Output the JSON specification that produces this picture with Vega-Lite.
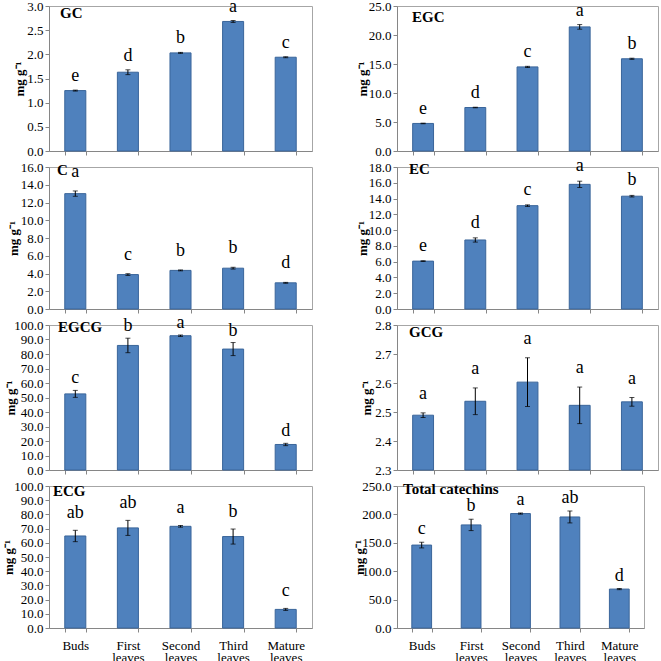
{
  "$schema": "https://vega.github.io/schema/vega-lite/v6.json",
  "padding": {"left": 1, "top": -4, "right": 0, "bottom": 0},
  "background": "white",
  "datasets": {
    "catechins": [
      {"compound": "GC", "stage": "Buds", "value": 1.25, "lo": 1.24, "hi": 1.26, "letter": "e"},
      {"compound": "GC", "stage": "First leaves", "value": 1.63, "lo": 1.58, "hi": 1.68, "letter": "d"},
      {"compound": "GC", "stage": "Second leaves", "value": 2.03, "lo": 2.02, "hi": 2.04, "letter": "b"},
      {"compound": "GC", "stage": "Third leaves", "value": 2.68, "lo": 2.66, "hi": 2.70, "letter": "a"},
      {"compound": "GC", "stage": "Mature leaves", "value": 1.94, "lo": 1.93, "hi": 1.95, "letter": "c"},
      {"compound": "EGC", "stage": "Buds", "value": 4.75, "lo": 4.7, "hi": 4.8, "letter": "e"},
      {"compound": "EGC", "stage": "First leaves", "value": 7.5, "lo": 7.45, "hi": 7.55, "letter": "d"},
      {"compound": "EGC", "stage": "Second leaves", "value": 14.5, "lo": 14.4, "hi": 14.6, "letter": "c"},
      {"compound": "EGC", "stage": "Third leaves", "value": 21.4, "lo": 21.0, "hi": 21.8, "letter": "a"},
      {"compound": "EGC", "stage": "Mature leaves", "value": 15.9, "lo": 15.8, "hi": 16.0, "letter": "b"},
      {"compound": "C", "stage": "Buds", "value": 13.0, "lo": 12.7, "hi": 13.3, "letter": "a"},
      {"compound": "C", "stage": "First leaves", "value": 3.88, "lo": 3.78, "hi": 3.98, "letter": "c"},
      {"compound": "C", "stage": "Second leaves", "value": 4.35, "lo": 4.3, "hi": 4.4, "letter": "b"},
      {"compound": "C", "stage": "Third leaves", "value": 4.6, "lo": 4.5, "hi": 4.7, "letter": "b"},
      {"compound": "C", "stage": "Mature leaves", "value": 2.95, "lo": 2.9, "hi": 3.0, "letter": "d"},
      {"compound": "EC", "stage": "Buds", "value": 6.07, "lo": 6.02, "hi": 6.12, "letter": "e"},
      {"compound": "EC", "stage": "First leaves", "value": 8.75, "lo": 8.48, "hi": 9.02, "letter": "d"},
      {"compound": "EC", "stage": "Second leaves", "value": 13.1, "lo": 13.0, "hi": 13.2, "letter": "c"},
      {"compound": "EC", "stage": "Third leaves", "value": 15.8, "lo": 15.4, "hi": 16.2, "letter": "a"},
      {"compound": "EC", "stage": "Mature leaves", "value": 14.3, "lo": 14.2, "hi": 14.4, "letter": "b"},
      {"compound": "EGCG", "stage": "Buds", "value": 52.5, "lo": 50.1, "hi": 54.9, "letter": "c"},
      {"compound": "EGCG", "stage": "First leaves", "value": 85.9, "lo": 80.9, "hi": 90.9, "letter": "b"},
      {"compound": "EGCG", "stage": "Second leaves", "value": 92.6, "lo": 92.1, "hi": 93.1, "letter": "a"},
      {"compound": "EGCG", "stage": "Third leaves", "value": 83.4, "lo": 78.9, "hi": 87.9, "letter": "b"},
      {"compound": "EGCG", "stage": "Mature leaves", "value": 17.6, "lo": 16.8, "hi": 18.4, "letter": "d"},
      {"compound": "GCG", "stage": "Buds", "value": 2.489, "lo": 2.481, "hi": 2.497, "letter": "a"},
      {"compound": "GCG", "stage": "First leaves", "value": 2.537, "lo": 2.491, "hi": 2.583, "letter": "a"},
      {"compound": "GCG", "stage": "Second leaves", "value": 2.603, "lo": 2.519, "hi": 2.687, "letter": "a"},
      {"compound": "GCG", "stage": "Third leaves", "value": 2.523, "lo": 2.46, "hi": 2.586, "letter": "a"},
      {"compound": "GCG", "stage": "Mature leaves", "value": 2.535, "lo": 2.52, "hi": 2.55, "letter": "a"},
      {"compound": "ECG", "stage": "Buds", "value": 64.8, "lo": 60.8, "hi": 68.8, "letter": "ab"},
      {"compound": "ECG", "stage": "First leaves", "value": 70.5, "lo": 65.2, "hi": 75.8, "letter": "ab"},
      {"compound": "ECG", "stage": "Second leaves", "value": 71.6, "lo": 71.0, "hi": 72.2, "letter": "a"},
      {"compound": "ECG", "stage": "Third leaves", "value": 64.4, "lo": 59.1, "hi": 69.7, "letter": "b"},
      {"compound": "ECG", "stage": "Mature leaves", "value": 13.1, "lo": 12.4, "hi": 13.8, "letter": "c"},
      {"compound": "Total", "stage": "Buds", "value": 146.0, "lo": 141.0, "hi": 151.0, "letter": "c"},
      {"compound": "Total", "stage": "First leaves", "value": 181.5, "lo": 171.5, "hi": 191.5, "letter": "b"},
      {"compound": "Total", "stage": "Second leaves", "value": 201.5, "lo": 200.5, "hi": 202.5, "letter": "a"},
      {"compound": "Total", "stage": "Third leaves", "value": 195.5, "lo": 185.0, "hi": 206.0, "letter": "ab"},
      {"compound": "Total", "stage": "Mature leaves", "value": 68.5, "lo": 67.5, "hi": 69.5, "letter": "d"}
    ]
  },
  "columns": 2,
  "spacing": {"row": 16, "column": 85},
  "bounds": "flush",
  "concat": [
    {
      "width": 263, "height": 145,
      "data": {"name": "catechins"},
      "title": {"text": "GC", "dx": 11, "dy": 23, "offset": 0, "frame": "group"},
      "transform": [{"filter": "datum.compound === 'GC'"}],
      "encoding": {"x": {"field": "stage", "type": "nominal", "sort": null, "scale": {"paddingInner": 0.6, "paddingOuter": 0.3}, "axis": {"labels": false, "title": null}}},
      "layer": [
        {"mark": {"type": "bar", "fill": "#4f81bd", "stroke": "#3a659a", "strokeWidth": 1}, "encoding": {"y": {"field": "value", "type": "quantitative", "title": "mg g⁻¹", "scale": {"domain": [0, 3], "nice": false}, "axis": {"values": [0, 0.5, 1, 1.5, 2, 2.5, 3], "titleX": -30}}}},
        {"mark": {"type": "rule", "color": "#000000"}, "encoding": {"y": {"field": "lo", "type": "quantitative", "title": "mg g⁻¹", "axis": {"values": [0, 0.5, 1, 1.5, 2, 2.5, 3], "titleX": -30}}, "y2": {"field": "hi"}}},
        {"mark": {"type": "tick", "color": "#000000", "size": 5, "thickness": 1}, "encoding": {"y": {"field": "lo", "type": "quantitative", "title": "mg g⁻¹", "axis": {"values": [0, 0.5, 1, 1.5, 2, 2.5, 3], "titleX": -30}}}},
        {"mark": {"type": "tick", "color": "#000000", "size": 5, "thickness": 1}, "encoding": {"y": {"field": "hi", "type": "quantitative", "title": "mg g⁻¹", "axis": {"values": [0, 0.5, 1, 1.5, 2, 2.5, 3], "titleX": -30}}}},
        {"mark": {"type": "text", "fontSize": 18, "baseline": "alphabetic", "dy": -9}, "encoding": {"y": {"field": "hi", "type": "quantitative", "title": "mg g⁻¹", "axis": {"values": [0, 0.5, 1, 1.5, 2, 2.5, 3], "titleX": -30}}, "text": {"field": "letter"}}}
      ]
    },
    {
      "width": 261, "height": 145,
      "data": {"name": "catechins"},
      "title": {"text": "EGC", "dx": 15, "dy": 25, "offset": 0, "frame": "group"},
      "transform": [{"filter": "datum.compound === 'EGC'"}],
      "encoding": {"x": {"field": "stage", "type": "nominal", "sort": null, "scale": {"paddingInner": 0.6, "paddingOuter": 0.3}, "axis": {"labels": false, "title": null}}},
      "layer": [
        {"mark": {"type": "bar", "fill": "#4f81bd", "stroke": "#3a659a", "strokeWidth": 1}, "encoding": {"y": {"field": "value", "type": "quantitative", "title": "mg g⁻¹", "scale": {"domain": [0, 25], "nice": false}, "axis": {"values": [0, 5, 10, 15, 20, 25], "titleX": -35}}}},
        {"mark": {"type": "rule", "color": "#000000"}, "encoding": {"y": {"field": "lo", "type": "quantitative", "title": "mg g⁻¹", "axis": {"values": [0, 5, 10, 15, 20, 25], "titleX": -35}}, "y2": {"field": "hi"}}},
        {"mark": {"type": "tick", "color": "#000000", "size": 5, "thickness": 1}, "encoding": {"y": {"field": "lo", "type": "quantitative", "title": "mg g⁻¹", "axis": {"values": [0, 5, 10, 15, 20, 25], "titleX": -35}}}},
        {"mark": {"type": "tick", "color": "#000000", "size": 5, "thickness": 1}, "encoding": {"y": {"field": "hi", "type": "quantitative", "title": "mg g⁻¹", "axis": {"values": [0, 5, 10, 15, 20, 25], "titleX": -35}}}},
        {"mark": {"type": "text", "fontSize": 18, "baseline": "alphabetic", "dy": -9}, "encoding": {"y": {"field": "hi", "type": "quantitative", "title": "mg g⁻¹", "axis": {"values": [0, 5, 10, 15, 20, 25], "titleX": -35}}, "text": {"field": "letter"}}}
      ]
    },
    {
      "width": 263, "height": 142,
      "data": {"name": "catechins"},
      "title": {"text": "C", "dx": 8, "dy": 17, "offset": 0, "frame": "group"},
      "transform": [{"filter": "datum.compound === 'C'"}],
      "encoding": {"x": {"field": "stage", "type": "nominal", "sort": null, "scale": {"paddingInner": 0.6, "paddingOuter": 0.3}, "axis": {"labels": false, "title": null}}},
      "layer": [
        {"mark": {"type": "bar", "fill": "#4f81bd", "stroke": "#3a659a", "strokeWidth": 1}, "encoding": {"y": {"field": "value", "type": "quantitative", "title": "mg g⁻¹", "scale": {"domain": [0, 16], "nice": false}, "axis": {"values": [0, 2, 4, 6, 8, 10, 12, 14, 16], "titleX": -36}}}},
        {"mark": {"type": "rule", "color": "#000000"}, "encoding": {"y": {"field": "lo", "type": "quantitative", "title": "mg g⁻¹", "axis": {"values": [0, 2, 4, 6, 8, 10, 12, 14, 16], "titleX": -36}}, "y2": {"field": "hi"}}},
        {"mark": {"type": "tick", "color": "#000000", "size": 5, "thickness": 1}, "encoding": {"y": {"field": "lo", "type": "quantitative", "title": "mg g⁻¹", "axis": {"values": [0, 2, 4, 6, 8, 10, 12, 14, 16], "titleX": -36}}}},
        {"mark": {"type": "tick", "color": "#000000", "size": 5, "thickness": 1}, "encoding": {"y": {"field": "hi", "type": "quantitative", "title": "mg g⁻¹", "axis": {"values": [0, 2, 4, 6, 8, 10, 12, 14, 16], "titleX": -36}}}},
        {"mark": {"type": "text", "fontSize": 18, "baseline": "alphabetic", "dy": -14}, "encoding": {"y": {"field": "hi", "type": "quantitative", "title": "mg g⁻¹", "axis": {"values": [0, 2, 4, 6, 8, 10, 12, 14, 16], "titleX": -36}}, "text": {"field": "letter"}}}
      ]
    },
    {
      "width": 261, "height": 142,
      "data": {"name": "catechins"},
      "title": {"text": "EC", "dx": 12, "dy": 20, "offset": 0, "frame": "group"},
      "transform": [{"filter": "datum.compound === 'EC'"}],
      "encoding": {"x": {"field": "stage", "type": "nominal", "sort": null, "scale": {"paddingInner": 0.6, "paddingOuter": 0.3}, "axis": {"labels": false, "title": null}}},
      "layer": [
        {"mark": {"type": "bar", "fill": "#4f81bd", "stroke": "#3a659a", "strokeWidth": 1}, "encoding": {"y": {"field": "value", "type": "quantitative", "title": "mg g⁻¹", "scale": {"domain": [0, 18], "nice": false}, "axis": {"values": [0, 2, 4, 6, 8, 10, 12, 14, 16, 18], "titleX": -35}}}},
        {"mark": {"type": "rule", "color": "#000000"}, "encoding": {"y": {"field": "lo", "type": "quantitative", "title": "mg g⁻¹", "axis": {"values": [0, 2, 4, 6, 8, 10, 12, 14, 16, 18], "titleX": -35}}, "y2": {"field": "hi"}}},
        {"mark": {"type": "tick", "color": "#000000", "size": 5, "thickness": 1}, "encoding": {"y": {"field": "lo", "type": "quantitative", "title": "mg g⁻¹", "axis": {"values": [0, 2, 4, 6, 8, 10, 12, 14, 16, 18], "titleX": -35}}}},
        {"mark": {"type": "tick", "color": "#000000", "size": 5, "thickness": 1}, "encoding": {"y": {"field": "hi", "type": "quantitative", "title": "mg g⁻¹", "axis": {"values": [0, 2, 4, 6, 8, 10, 12, 14, 16, 18], "titleX": -35}}}},
        {"mark": {"type": "text", "fontSize": 18, "baseline": "alphabetic", "dy": -10}, "encoding": {"y": {"field": "hi", "type": "quantitative", "title": "mg g⁻¹", "axis": {"values": [0, 2, 4, 6, 8, 10, 12, 14, 16, 18], "titleX": -35}}, "text": {"field": "letter"}}}
      ]
    },
    {
      "width": 263, "height": 145,
      "data": {"name": "catechins"},
      "title": {"text": "EGCG", "dx": 9, "dy": 21, "offset": 0, "frame": "group"},
      "transform": [{"filter": "datum.compound === 'EGCG'"}],
      "encoding": {"x": {"field": "stage", "type": "nominal", "sort": null, "scale": {"paddingInner": 0.6, "paddingOuter": 0.3}, "axis": {"labels": false, "title": null}}},
      "layer": [
        {"mark": {"type": "bar", "fill": "#4f81bd", "stroke": "#3a659a", "strokeWidth": 1}, "encoding": {"y": {"field": "value", "type": "quantitative", "title": "mg g⁻¹", "scale": {"domain": [0, 100], "nice": false}, "axis": {"values": [0, 10, 20, 30, 40, 50, 60, 70, 80, 90, 100], "titleX": -39}}}},
        {"mark": {"type": "rule", "color": "#000000"}, "encoding": {"y": {"field": "lo", "type": "quantitative", "title": "mg g⁻¹", "axis": {"values": [0, 10, 20, 30, 40, 50, 60, 70, 80, 90, 100], "titleX": -39}}, "y2": {"field": "hi"}}},
        {"mark": {"type": "tick", "color": "#000000", "size": 5, "thickness": 1}, "encoding": {"y": {"field": "lo", "type": "quantitative", "title": "mg g⁻¹", "axis": {"values": [0, 10, 20, 30, 40, 50, 60, 70, 80, 90, 100], "titleX": -39}}}},
        {"mark": {"type": "tick", "color": "#000000", "size": 5, "thickness": 1}, "encoding": {"y": {"field": "hi", "type": "quantitative", "title": "mg g⁻¹", "axis": {"values": [0, 10, 20, 30, 40, 50, 60, 70, 80, 90, 100], "titleX": -39}}}},
        {"mark": {"type": "text", "fontSize": 18, "baseline": "alphabetic", "dy": -7}, "encoding": {"y": {"field": "hi", "type": "quantitative", "title": "mg g⁻¹", "axis": {"values": [0, 10, 20, 30, 40, 50, 60, 70, 80, 90, 100], "titleX": -39}}, "text": {"field": "letter"}}}
      ]
    },
    {
      "width": 261, "height": 145,
      "data": {"name": "catechins"},
      "title": {"text": "GCG", "dx": 12, "dy": 21, "offset": 0, "frame": "group"},
      "transform": [{"filter": "datum.compound === 'GCG'"}],
      "encoding": {"x": {"field": "stage", "type": "nominal", "sort": null, "scale": {"paddingInner": 0.6, "paddingOuter": 0.3}, "axis": {"labels": false, "title": null}}},
      "layer": [
        {"mark": {"type": "bar", "fill": "#4f81bd", "stroke": "#3a659a", "strokeWidth": 1}, "encoding": {"y": {"field": "value", "type": "quantitative", "title": "mg g⁻¹", "scale": {"domain": [2.3, 2.8], "nice": false, "zero": false}, "axis": {"values": [2.3, 2.4, 2.5, 2.6, 2.7, 2.8], "titleX": -31}}, "y2": {"datum": 2.3}}},
        {"mark": {"type": "rule", "color": "#000000"}, "encoding": {"y": {"field": "lo", "type": "quantitative", "title": "mg g⁻¹", "axis": {"values": [2.3, 2.4, 2.5, 2.6, 2.7, 2.8], "titleX": -31}}, "y2": {"field": "hi"}}},
        {"mark": {"type": "tick", "color": "#000000", "size": 5, "thickness": 1}, "encoding": {"y": {"field": "lo", "type": "quantitative", "title": "mg g⁻¹", "axis": {"values": [2.3, 2.4, 2.5, 2.6, 2.7, 2.8], "titleX": -31}}}},
        {"mark": {"type": "tick", "color": "#000000", "size": 5, "thickness": 1}, "encoding": {"y": {"field": "hi", "type": "quantitative", "title": "mg g⁻¹", "axis": {"values": [2.3, 2.4, 2.5, 2.6, 2.7, 2.8], "titleX": -31}}}},
        {"mark": {"type": "text", "fontSize": 18, "baseline": "alphabetic", "dy": -14}, "encoding": {"y": {"field": "hi", "type": "quantitative", "title": "mg g⁻¹", "axis": {"values": [2.3, 2.4, 2.5, 2.6, 2.7, 2.8], "titleX": -31}}, "text": {"field": "letter"}}}
      ]
    },
    {
      "width": 263, "height": 142,
      "data": {"name": "catechins"},
      "title": {"text": "ECG", "dx": 4, "dy": 19, "offset": 0, "frame": "group"},
      "transform": [{"filter": "datum.compound === 'ECG'"}],
      "encoding": {"x": {"field": "stage", "type": "nominal", "sort": null, "scale": {"paddingInner": 0.6, "paddingOuter": 0.3}, "axis": {"title": null, "labelExpr": "split(datum.label, ' ')", "labelLineHeight": 12.5, "labelPadding": 7}}},
      "layer": [
        {"mark": {"type": "bar", "fill": "#4f81bd", "stroke": "#3a659a", "strokeWidth": 1}, "encoding": {"y": {"field": "value", "type": "quantitative", "title": "mg g⁻¹", "scale": {"domain": [0, 100], "nice": false}, "axis": {"values": [0, 10, 20, 30, 40, 50, 60, 70, 80, 90, 100], "titleX": -41}}}},
        {"mark": {"type": "rule", "color": "#000000"}, "encoding": {"y": {"field": "lo", "type": "quantitative", "title": "mg g⁻¹", "axis": {"values": [0, 10, 20, 30, 40, 50, 60, 70, 80, 90, 100], "titleX": -41}}, "y2": {"field": "hi"}}},
        {"mark": {"type": "tick", "color": "#000000", "size": 5, "thickness": 1}, "encoding": {"y": {"field": "lo", "type": "quantitative", "title": "mg g⁻¹", "axis": {"values": [0, 10, 20, 30, 40, 50, 60, 70, 80, 90, 100], "titleX": -41}}}},
        {"mark": {"type": "tick", "color": "#000000", "size": 5, "thickness": 1}, "encoding": {"y": {"field": "hi", "type": "quantitative", "title": "mg g⁻¹", "axis": {"values": [0, 10, 20, 30, 40, 50, 60, 70, 80, 90, 100], "titleX": -41}}}},
        {"mark": {"type": "text", "fontSize": 18, "baseline": "alphabetic", "dy": -12}, "encoding": {"y": {"field": "hi", "type": "quantitative", "title": "mg g⁻¹", "axis": {"values": [0, 10, 20, 30, 40, 50, 60, 70, 80, 90, 100], "titleX": -41}}, "text": {"field": "letter"}}}
      ]
    },
    {
      "width": 247, "height": 142,
      "data": {"name": "catechins"},
      "title": {"text": "Total catechins", "dx": 6, "dy": 17, "offset": 0, "frame": "group"},
      "transform": [{"filter": "datum.compound === 'Total'"}],
      "encoding": {"x": {"field": "stage", "type": "nominal", "sort": null, "scale": {"paddingInner": 0.6, "paddingOuter": 0.3}, "axis": {"title": null, "labelExpr": "split(datum.label, ' ')", "labelLineHeight": 12.5, "labelPadding": 7}}},
      "layer": [
        {"mark": {"type": "bar", "fill": "#4f81bd", "stroke": "#3a659a", "strokeWidth": 1}, "encoding": {"y": {"field": "value", "type": "quantitative", "title": "mg g⁻¹", "scale": {"domain": [0, 250], "nice": false}, "axis": {"values": [0, 50, 100, 150, 200, 250], "titleX": -38}}}},
        {"mark": {"type": "rule", "color": "#000000"}, "encoding": {"y": {"field": "lo", "type": "quantitative", "title": "mg g⁻¹", "axis": {"values": [0, 50, 100, 150, 200, 250], "titleX": -38}}, "y2": {"field": "hi"}}},
        {"mark": {"type": "tick", "color": "#000000", "size": 5, "thickness": 1}, "encoding": {"y": {"field": "lo", "type": "quantitative", "title": "mg g⁻¹", "axis": {"values": [0, 50, 100, 150, 200, 250], "titleX": -38}}}},
        {"mark": {"type": "tick", "color": "#000000", "size": 5, "thickness": 1}, "encoding": {"y": {"field": "hi", "type": "quantitative", "title": "mg g⁻¹", "axis": {"values": [0, 50, 100, 150, 200, 250], "titleX": -38}}}},
        {"mark": {"type": "text", "fontSize": 18, "baseline": "alphabetic", "dy": -8}, "encoding": {"y": {"field": "hi", "type": "quantitative", "title": "mg g⁻¹", "axis": {"values": [0, 50, 100, 150, 200, 250], "titleX": -38}}, "text": {"field": "letter"}}}
      ]
    }
  ],
  "config": {
    "font": "Liberation Serif",
    "view": {"stroke": "#a6a6a6", "strokeWidth": 1},
    "axis": {"grid": false, "domainColor": "#868686", "tickColor": "#868686", "labelColor": "#000000", "labelFontSize": 13, "labelFont": "Liberation Serif", "titleFont": "Liberation Serif", "titleColor": "#000000"},
    "axisY": {"tickSize": 4, "labelPadding": 2, "titleFontSize": 13, "titleFontWeight": "bold", "titleBaseline": "middle", "format": ".1f"},
    "axisX": {"tickBand": "extent", "tickSize": 4, "labelAngle": 0},
    "title": {"font": "Liberation Serif", "fontSize": 15, "fontWeight": "bold", "anchor": "start", "color": "#000000", "baseline": "alphabetic"},
    "text": {"font": "Liberation Serif", "color": "#000000"}
  }
}
